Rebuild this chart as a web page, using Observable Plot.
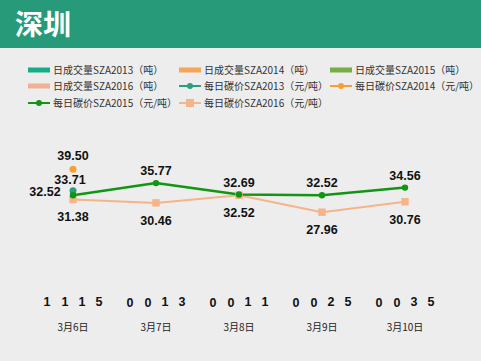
<!DOCTYPE html>
<html><head><meta charset="utf-8">
<script src="https://cdn.jsdelivr.net/npm/d3@7"></script>
<script src="https://cdn.jsdelivr.net/npm/@observablehq/plot@0.6"></script>
<style>
body{margin:0;background:#ededed;font-family:"Noto Sans CJK SC","Noto Sans",sans-serif;}
#wrap{width:481px;height:361px;position:relative;overflow:hidden;background:#ededed;}
#hdr{position:absolute;left:0;top:0;width:481px;height:48px;background:#279a79;}
#hdr span{position:absolute;left:15px;top:4px;font-size:28px;font-weight:bold;color:#fff;line-height:38px;}
#leg{position:absolute;left:0;top:48px;width:481px;height:64px;}
.li{position:absolute;height:14px;}
.li .sw{position:absolute;left:0;top:0;width:22px;height:14px;}
.li .tx{position:absolute;left:25px;top:0;font-size:10px;line-height:14px;color:#333;white-space:nowrap;}
#chart{position:absolute;left:0;top:112px;}
</style></head>
<body><div id="wrap"><div id="hdr"><span>深圳</span></div><div id="leg"></div><div id="chart"></div></div>
<script>
const dates = ["3月6日","3月7日","3月8日","3月9日","3月10日"];
const vol2013 = [1,0,0,0,0];
const vol2014 = [1,0,0,0,0];
const vol2015 = [1,1,1,2,3];
const vol2016 = [5,3,1,5,5];
const price2013 = [33.71,null,null,null,null];
const price2014 = [39.50,null,null,null,null];
const price2015 = [32.52,35.77,32.69,32.52,34.56];
const price2016 = [31.38,30.46,32.52,27.96,30.76];
const volNames = ["日成交量SZA2013（吨）","日成交量SZA2014（吨）","日成交量SZA2015（吨）","日成交量SZA2016（吨）"];
const priceNames = ["每日碳价SZA2013（元/吨）","每日碳价SZA2014（元/吨）","每日碳价SZA2015（元/吨）","每日碳价SZA2016（元/吨）"];

const volColors = ["#12ae88","#f5a656","#76ad46","#f3b097"];
const priceColors = ["#2c9d7e","#f5a033","#129512","#f5b48a"];

// legend
const legItems = [
  {name:volNames[0],kind:"bar",color:volColors[0]},
  {name:volNames[1],kind:"bar",color:volColors[1]},
  {name:volNames[2],kind:"bar",color:volColors[2]},
  {name:volNames[3],kind:"bar",color:volColors[3]},
  {name:priceNames[0],kind:"line",color:priceColors[0],sym:"circle"},
  {name:priceNames[1],kind:"line",color:priceColors[1],sym:"circle"},
  {name:priceNames[2],kind:"line",color:priceColors[2],sym:"circle"},
  {name:priceNames[3],kind:"line",color:priceColors[3],sym:"square"}
];
const colX = [28,179,330], rowY = [15,31,48];
const leg = document.getElementById("leg");
legItems.forEach((it,i)=>{
  const d = document.createElement("div"); d.className="li";
  d.style.left = colX[i%3]+"px"; d.style.top = rowY[Math.floor(i/3)]+"px";
  let sw;
  if(it.kind==="bar"){
    sw = `<svg class="sw" width="22" height="14"><rect x="0" y="4.5" width="22" height="5" fill="${it.color}"/></svg>`;
  } else {
    const m = it.sym==="circle" ? `<circle cx="11" cy="7" r="3" fill="${it.color}"/>` : `<rect x="7" y="3" width="8" height="8" fill="${it.color}"/>`;
    sw = `<svg class="sw" width="22" height="14"><line x1="0" x2="22" y1="7" y2="7" stroke="${it.color}" stroke-width="2"/>${m}</svg>`;
  }
  d.innerHTML = sw + `<span class="tx">${it.name}</span>`;
  leg.appendChild(d);
});

const volArrs = [vol2013,vol2014,vol2015,vol2016];
const priceArrs = [price2013,price2014,price2015,price2016];
const volMax = 500000, priceMax = 50; // secondary axis mapped onto primary
const toPrimary = v => v/volMax*priceMax;
const offs = [-26,-8,9,26];
const fontFam = "'Liberation Sans',Arial,sans-serif";

const marks = [];
volArrs.forEach((arr,s)=>{
  const rows = dates.map((d,i)=>({date:d, v:arr[i]}));
  marks.push(Plot.barY(rows,{x:"date", y1:0, y2:d=>toPrimary(d.v), fill:volColors[s], insetLeft:42+offs[s]-7, insetRight:42-offs[s]-7}));
  marks.push(Plot.text(rows,{x:"date", y:d=>toPrimary(d.v), text:d=>String(d.v), dx:offs[s], dy:-14, fontSize:12.5, fontWeight:"bold", fill:"#111", fontFamily:fontFam}));
});
const pRows = priceArrs.map(arr=>dates.map((d,i)=>({date:d,v:arr[i],i})).filter(r=>r.v!=null));
// lines
marks.push(Plot.line(pRows[3],{x:"date",y:"v",stroke:priceColors[3],strokeWidth:2}));
marks.push(Plot.line(pRows[2],{x:"date",y:"v",stroke:priceColors[2],strokeWidth:2.5}));
marks.push(Plot.dot(pRows[0],{x:"date",y:"v",fill:priceColors[0],r:3.5}));
marks.push(Plot.dot(pRows[1],{x:"date",y:"v",fill:priceColors[1],r:3.5}));
marks.push(Plot.dot(pRows[3],{x:"date",y:"v",fill:priceColors[3],symbol:"square",r:4.2}));
marks.push(Plot.dot(pRows[2],{x:"date",y:"v",fill:priceColors[2],r:3.2}));
const lab = {fontSize:12.5, fontWeight:"bold", fill:"#111", fontFamily:fontFam};
marks.push(Plot.text(pRows[1],{x:"date",y:"v",text:d=>d.v.toFixed(2),dy:-13,...lab}));
marks.push(Plot.text(pRows[0],{x:"date",y:"v",text:d=>d.v.toFixed(2),dx:-3,dy:-11,...lab}));
marks.push(Plot.text(pRows[2].filter(r=>r.i===0),{x:"date",y:"v",text:d=>d.v.toFixed(2),dx:-28,dy:-3,...lab}));
marks.push(Plot.text(pRows[2].filter(r=>r.i>0),{x:"date",y:"v",text:d=>d.v.toFixed(2),dy:-12,...lab}));
marks.push(Plot.text(pRows[3],{x:"date",y:"v",text:d=>d.v.toFixed(2),dy:18,...lab}));
// category labels
marks.push(Plot.text(dates,{x:d=>d, y:()=>0, text:d=>d, dy:11, fontSize:10, fill:"#222", fontFamily:"'Noto Sans CJK SC',sans-serif"}));

const chart = Plot.plot({
  width:481, height:249,
  x:{type:"band", domain:dates, range:[29,448], padding:0, axis:null},
  y:{domain:[0,priceMax], range:[204,17.5], axis:null},
  style:{background:"transparent", overflow:"visible"},
  marks
});
document.getElementById("chart").appendChild(chart);
</script></body></html>
